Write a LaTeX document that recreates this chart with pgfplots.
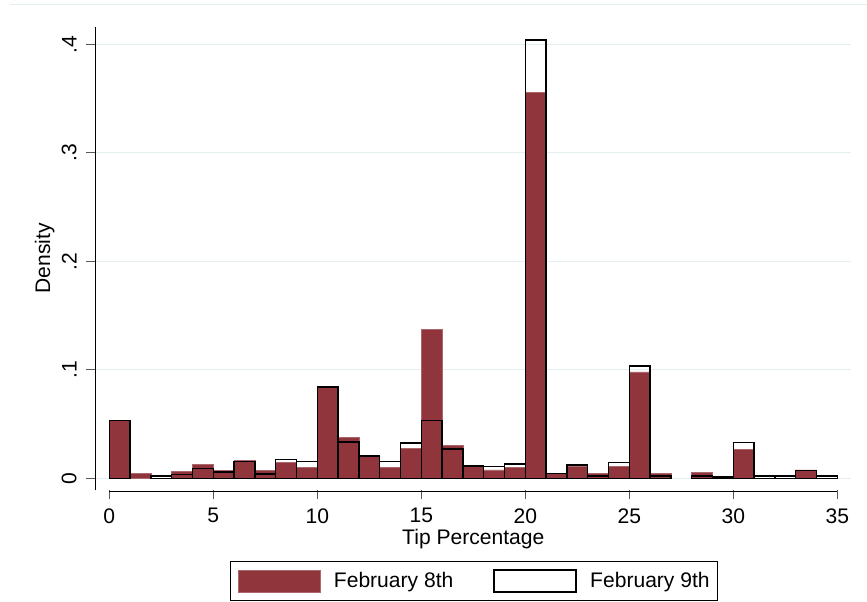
\documentclass[border=0pt]{standalone}
\usepackage{fontspec}
\setmainfont{Liberation Sans}
\usepackage{pgfplots}
\pgfplotsset{compat=1.18}
\definecolor{cranberry}{RGB}{144,53,59}
\definecolor{gridc}{RGB}{228,237,240}

\pgfplotstableread{
x y
0.5 0.0535
1.5 0.0045
3.5 0.0060
4.5 0.0125
5.5 0.0074
6.5 0.0162
7.5 0.0074
8.5 0.0147
9.5 0.0101
10.5 0.0844
11.5 0.0378
12.5 0.0208
13.5 0.0104
14.5 0.0276
15.5 0.1373
16.5 0.0304
17.5 0.0113
18.5 0.0077
19.5 0.0104
20.5 0.3558
21.5 0.0045
22.5 0.0110
23.5 0.0047
24.5 0.0113
25.5 0.0980
26.5 0.0045
28.5 0.0058
30.5 0.0270
33.5 0.0078
}\febeight

\pgfplotstableread{
x y
0.5 0.0535
2.5 0.0020
3.5 0.0037
4.5 0.0092
5.5 0.0060
6.5 0.0155
7.5 0.0040
8.5 0.0175
9.5 0.0153
10.5 0.0844
11.5 0.0335
12.5 0.0208
13.5 0.0157
14.5 0.0325
15.5 0.0531
16.5 0.0270
17.5 0.0113
18.5 0.0107
19.5 0.0132
20.5 0.4040
21.5 0.0043
22.5 0.0123
23.5 0.0022
24.5 0.0147
25.5 0.1035
26.5 0.0022
28.5 0.0021
29.5 0.0010
30.5 0.0328
31.5 0.0020
32.5 0.0020
33.5 0.0070
34.5 0.0020
}\febnine

\begin{document}
\fontsize{15.8pt}{19pt}\selectfont
\begin{tikzpicture}
\useasboundingbox (0,0) rectangle (650.25pt,-451.5pt);
\draw[gridc, line width=0.9pt] (7.5pt,-3.4pt) -- (650.25pt,-3.4pt);
\begin{axis}[
  scale only axis,
  clip=false,
  width=566.25pt, height=347.5pt,
  at={(71.78pt,-20.03pt)}, anchor=north west,
  xmin=-0.654, xmax=35.644, ymin=-0.0108, ymax=0.4162,
  axis y line=left, axis x line=bottom,
  axis line style={-, black, line width=0.8pt},
  x axis line style={draw=none},
  tick align=outside,
  major tick length=7pt,
  tick style={black!65, line width=0.8pt},
  xtick={0,5,...,35},
  ytick={0,0.1,0.2,0.3,0.4},
  yticklabels={0,.1,.2,.3,.4},
  ymajorgrids,
  grid style={gridc, line width=0.9pt},
  /pgf/number format/assume math mode=true,
  tick label style={font=\fontsize{15.8pt}{19pt}\selectfont},
  xticklabel style={anchor=north, inner sep=0pt},
  xticklabel shift=6.5pt,
  yticklabel style={rotate=90, anchor=south, inner sep=0pt},
  yticklabel shift=7.2pt,
  xlabel={Tip Percentage},
  ylabel={Density},
  every axis x label/.style={at={(axis description cs:0.5001,-0.1166)}, anchor=base, inner sep=0pt},
  every axis y label/.style={at={(axis description cs:-0.0605,0.5)}, anchor=base, rotate=90, inner sep=0pt},
  legend columns=2,
  legend style={at={(axis description cs:0.5007,-0.1968)}, anchor=center,
    draw=black, line width=0.6pt, inner xsep=5.6pt, inner ysep=5.8pt,
    nodes={inner sep=0pt, anchor=west},
    /tikz/every odd column/.append style={column sep=10pt},
    /tikz/every even column/.append style={column sep=30pt}},
]
\addplot[ybar, bar width=1, bar shift=0pt, fill=cranberry, draw=cranberry!75!white, line width=0.5pt,
  legend image code/.code={\draw[fill=cranberry, draw=cranberry!75!white, line width=0.6pt] (0pt,-8.25pt) rectangle (61.5pt,8.25pt);}]
  table[x=x, y=y] {\febeight};
\addlegendentry{February 8th}
\addplot[ybar, bar width=1, bar shift=0pt, fill=none, draw=black, line width=1.15pt,
  legend image code/.code={\draw[fill=white, draw=black, line width=1.15pt] (0pt,-8.25pt) rectangle (61.5pt,8.25pt);}]
  table[x=x, y=y] {\febnine};
\addlegendentry{February 9th\hspace{10pt}}
\draw[black, line width=0.8pt] (axis cs:0,-0.0108) ++(0pt,-1pt) -- ([yshift=-1pt]axis cs:35,-0.0108);
\end{axis}
\end{tikzpicture}
\end{document}
